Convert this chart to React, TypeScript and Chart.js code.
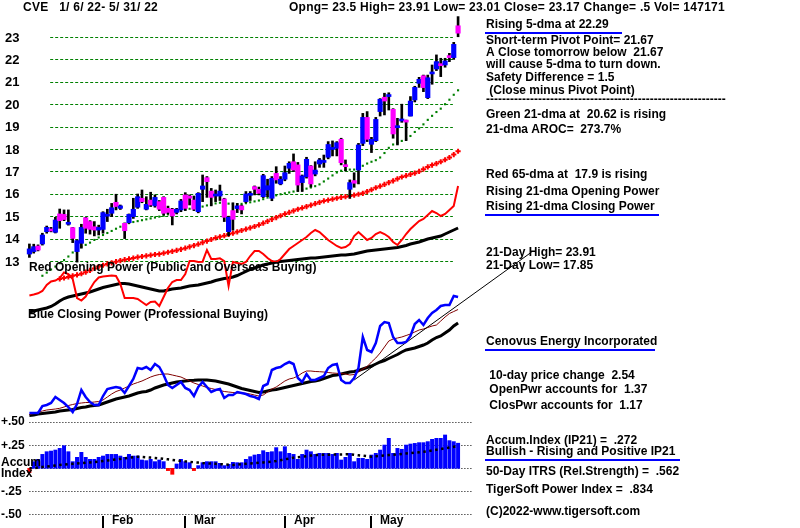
import React, { useEffect, useRef } from "react";
import { Chart, registerables } from "chart.js";

Chart.register(...registerables);

// ---------------- data ----------------
const HEADER_LEFT = "CVE   1/ 6/ 22- 5/ 31/ 22";
const HEADER_STATS = "Opng= 23.5 High= 23.91 Low= 23.01 Close= 23.17 Change= .5 Vol= 147171";

const OPEN = [13.31,13.42,13.67,13.76,14.31,14.43,14.28,15.10,15.08,14.64, 14.49,13.42,13.79,14.93,14.76,14.53,14.38,14.41,15.00,15.13, 15.62,15.35,14.68,14.71,14.98,15.40,15.80,15.31,15.72,15.46, 15.65,15.84,15.35,15.31,15.17,15.28,15.95,15.90,15.72,15.20, 16.20,16.72,16.12,15.90,15.90,15.77,14.31,15.25,15.34,15.46, 15.65,15.93,16.32,16.20,15.87,16.17,15.80,16.91,16.44,16.65, 17.14,17.43,17.29,16.50,16.76,17.24,16.88,17.33,17.40,17.63, 17.98,18.03,18.43,17.29,16.20,16.59,17.06,18.25,19.41,18.21, 18.37,19.67,20.31,20.34,19.77,18.95,19.25,19.25,19.47,20.19, 20.93,21.27,20.29,21.35,21.57,21.75,21.75,22.15,22.08,23.50];
const HIGH = [13.76,13.75,13.72,14.24,14.56,14.50,14.95,15.32,15.28,15.28, 14.50,13.94,14.64,14.95,14.80,14.76,14.60,15.20,15.31,15.57, 15.98,15.50,14.70,15.10,15.80,15.99,16.17,15.87,16.07,15.95, 15.70,15.87,15.45,15.35,15.35,15.75,16.05,15.95,15.90,16.05, 16.84,16.77,16.24,16.17,16.39,15.80,15.00,15.60,15.57,15.50, 16.10,16.10,16.35,16.30,16.87,16.65,16.77,17.21,16.77,17.24, 17.43,17.78,17.40,16.84,17.63,17.26,17.43,17.58,17.73,18.33, 18.36,18.33,18.48,17.51,16.62,16.94,18.25,19.59,19.67,18.52, 19.41,20.25,20.49,20.51,19.80,19.37,20.00,19.29,20.34,20.80, 21.20,21.30,21.30,21.75,22.20,22.05,22.05,22.27,22.76,23.91];
const LOW = [13.16,13.35,13.45,13.71,14.24,14.30,14.25,14.46,14.80,14.60, 13.82,12.95,13.57,14.24,14.20,14.12,14.16,14.24,14.76,14.98, 15.28,15.30,14.00,14.68,14.90,15.35,15.60,15.28,15.43,15.40, 15.25,15.05,15.10,14.61,15.10,15.20,15.25,15.50,15.25,15.15, 15.65,15.84,15.46,15.65,15.70,14.76,14.12,14.38,15.16,15.10, 15.60,15.70,15.95,15.95,15.83,15.87,15.69,16.47,16.40,16.58, 16.91,16.99,16.10,16.10,16.70,16.30,16.80,17.18,17.18,17.56, 17.69,17.69,17.29,17.02,15.80,16.29,16.44,18.15,18.33,17.84, 18.33,19.47,19.52,19.74,18.48,18.18,19.19,18.37,19.47,20.10, 20.75,20.56,20.25,20.89,21.50,21.23,21.65,21.90,22.00,23.01];
const CLOSE = [13.54,13.64,13.49,14.16,14.50,14.34,14.83,14.80,14.85,14.71, 14.01,13.91,14.50,14.46,14.41,14.38,14.50,15.16,15.02,15.38, 15.43,15.46,14.35,15.08,15.31,15.87,15.65,15.53,15.50,15.84, 15.31,15.13,15.17,15.01,15.31,15.68,15.35,15.80,15.31,16.02, 16.35,16.54,15.84,15.95,16.12,14.95,14.95,14.86,15.46,15.28, 15.99,15.95,16.20,16.02,16.81,16.36,16.69,16.62,16.65,16.94, 17.36,17.06,16.39,16.80,17.54,16.44,17.06,17.51,17.45,18.20, 18.05,18.28,17.39,17.21,16.50,16.47,18.18,19.41,18.43,18.43, 19.32,20.22,20.14,20.41,18.67,19.00,19.32,19.20,20.14,20.75, 21.11,20.74,21.18,21.42,21.90,21.72,21.93,22.08,22.67,23.17];

const MA21 = [null,null,null,12.34,12.48,12.62,12.75,12.9,13.04,13.2, 13.38,13.52,13.64,13.72,13.82,13.94,14.05,14.16,14.25,14.34, 14.44,14.53,14.62,14.69,14.74,14.78,14.82,14.86,14.9,14.94, 14.98,15.02,15.08,15.13,15.2,15.26,15.3,15.33,15.37,15.4, 15.43,15.48,15.53,15.57,15.6,15.59,15.56,15.54,15.54,15.55, 15.58,15.62,15.66,15.7,15.76,15.83,15.88,15.93,15.98,16.02, 16.06,16.1,16.14,16.18,16.23,16.28,16.34,16.42,16.55,16.68, 16.82,16.95,17.03,17.06,17.08,17.08,17.12,17.25,17.35,17.43, 17.5,17.62,17.82,18.05,18.2,18.28,18.36,18.45,18.58,18.76, 18.92,19.1,19.3,19.48,19.65,19.8,20.0,20.2,20.42,20.62];
const MA65 = [null,null,null,null,null,null,null,12.2,12.24,12.29, 12.34,12.38,12.43,12.5,12.58,12.67,12.75,12.81,12.87,12.92, 12.97,13.02,13.06,13.09,13.13,13.17,13.2,13.23,13.26,13.29, 13.31,13.35,13.39,13.43,13.47,13.52,13.57,13.63,13.69,13.75, 13.82,13.89,13.96,14.03,14.08,14.13,14.19,14.24,14.3,14.36, 14.42,14.48,14.54,14.61,14.69,14.77,14.86,14.94,15.02,15.1, 15.17,15.24,15.31,15.37,15.43,15.49,15.56,15.62,15.68,15.72, 15.76,15.8,15.84,15.87,15.9,15.94,15.98,16.02,16.1,16.18, 16.27,16.34,16.42,16.5,16.58,16.67,16.75,16.81,16.87,16.92, 17.0,17.1,17.2,17.28,17.35,17.43,17.52,17.62,17.75,17.9];

// Opening Power (arbitrary units) and its moving average
const OPEN_POWER = [24.5,25.5,26.7,29,35,38.5,39.5,42,47.5,46, 41,22,19.5,23.5,31,38,42.5,43.5,44,44.5, 44,36,22,22,22,21,18,15,18,18.5, 14,23,32,38,40,40,46,59,59,58, 58.3,70,61,61,61.7,59,34,58,57,56, 58,64,69,69,66,62,59,58,61,66, 71,74,77,80,83,87,90,88,84,80, 77,74,72,73,76,84,88,84,80,82, 86,88,86,83,78,75,80,86,91,95, 99,101,105,109,107,104,106,110,114,134];
const OPEN_POWER_MA = [8,9,10,11,12,13.5,16,19,21.5,23, 24,25,26,27,28,29.5,31,32.5,33.5,34.5, 35.5,36.5,36.5,36,35,34,33,32,31,30, 29,29,30,31,31.5,32,33,34,34.5,35, 36,37,38,39.5,40.5,41.5,42,43,44.5,46.5, 48.5,50.5,52,53.5,55,56,57,58,58.5,59, 59.5,60,60.5,61,61.5,62,62,62.5,63,63.5, 64,64.5,65,65,65.5,66,67,68,69,69.5, 70,70.5,71,71.5,72,72.5,73.5,74.5,76,77, 78,79.5,81,82,83,84,86,88,90,92];

// Closing Power (arbitrary units) and its moving averages
const CLOSE_POWER = [0,0,0,7,8,10,16,13,10,6, 1,9,23,16,11,8,8,17,24,25, 26,25,20,27,34,45,44,46,43,49, 46,38,28,25,28,31,25,23,17,26, 31,26,21,23,24,15,18,18,21,20, 19,17,16,14,27,29,43,45,46,49, 51,49,35,31,39,33,33,35,37,45, 48,49,33,30,30,35,45,76,63,61, 70,87,91,90,76,70,70,71,77,89, 93,88,95,100,103,107,108,108,117,116];
const CLOSE_POWER_MA21 = [-1.5,-0.5,1,2,3,3.5,4,4.7,6,7.5, 8.5,9.5,10,10.5,10.5,11,11.5,13,16,19, 21.5,23,25,27,29,30.5,32,34,36,37.5, 38.5,39,39,38,37,36,34,32,30,28.5, 27,25.5,24.5,23.5,22.5,21.5,21,20.5,20,20, 19.7,19,18,17,18,21,24,26,29,32, 34,35,37,40,42,42,41.5,41.3,41,40.5, 40,39.7,39.5,39,38,38.5,41,44,46.5,51, 55,60,66,72,74,75,76,77.5,79,81, 83,84,85.5,87,88,92,96,99.5,101.5,103.5];
const CLOSE_POWER_MA65 = [-2.5,-2,-1,-0.5,0,0.5,1,2,2.5,3, 3.5,4.5,5.5,6,7,7.5,8,9.5,11,12.5, 14,15,16,17,18.5,20,21,21.5,23,25, 26.5,28,29,30,31,31.5,32,32.5,32.7,33, 33,33,32.5,32,31,30,29,27.5,26,24.5, 23.5,22.5,21.5,20.5,21,22,23,23.5,24.5,25.5, 26.5,27.5,28.5,29.5,30.5,31.5,32,33,34.5,36, 37.5,38,39,40,41,41.5,42.5,44,45.5,47, 49,51,52.5,54.5,56.5,58.5,61,63,64,65, 66.5,68,70,73,75.5,77,80,83,87,90];
const CLOSE_POWER_TREND_BARS = [75, 116];
const CLOSE_POWER_TREND_VALUES = [33, 161];

// Accumulation Index (IP21) and its moving average
const ACCUM = [-0.047,0.072,0.097,0.151,0.18,0.187,0.198,0.216,0.245,0.18, 0.072,0.119,0.173,0.119,0.097,0.097,0.119,0.133,0.151,0.151, 0.151,0.133,0.119,0.151,0.133,0.133,0.09,0.083,0.097,0.072, 0.09,0.072,-0.025,-0.065,0.047,0.097,0.072,0.061,-0.025,0.029, 0.061,0.072,0.072,0.072,0.054,0.029,0.043,0.065,0.061,0.061, 0.097,0.126,0.144,0.151,0.191,0.173,0.18,0.224,0.18,0.234, 0.162,0.151,0.097,0.151,0.198,0.18,0.151,0.162,0.162,0.162, 0.151,0.162,0.09,0.119,0.162,0.072,0.108,0.108,0.097,0.144, 0.162,0.198,0.252,0.325,0.162,0.216,0.206,0.252,0.263,0.27, 0.278,0.278,0.289,0.314,0.325,0.325,0.361,0.3,0.289,0.272];
const ACCUM_MA = [0,0,0.01,0.015,0.02,0.025,0.03,0.036,0.04,0.045, 0.048,0.052,0.056,0.06,0.064,0.068,0.072,0.078,0.084,0.09, 0.096,0.102,0.108,0.114,0.12,0.125,0.124,0.12,0.116,0.112, 0.108,0.102,0.097,0.091,0.085,0.08,0.075,0.07,0.066,0.062, 0.057,0.054,0.051,0.048,0.045,0.042,0.039,0.036,0.04,0.045, 0.049,0.053,0.056,0.06,0.064,0.068,0.072,0.079,0.088,0.097, 0.106,0.115,0.12,0.126,0.132,0.138,0.143,0.145,0.146,0.147, 0.148,0.149,0.15,0.151,0.152,0.146,0.141,0.136,0.131,0.126, 0.13,0.135,0.139,0.143,0.147,0.151,0.156,0.16,0.165,0.17, 0.174,0.179,0.185,0.193,0.201,0.209,0.217,0.225,0.233,0.242];

const PRICE_TICKS = [13, 14, 15, 16, 17, 18, 19, 20, 21, 22, 23];
const ACCUM_TICKS = [0.5, 0.25, 0, -0.25, -0.5];
const ACCUM_TICK_LABELS = ["+.50", "+.25", "", "-.25", "-.50"];
const MONTH_LABELS = ["Feb", "Mar", "Apr", "May"];
const MONTH_START_BARS = [17, 36, 59, 79];

const NOTES_TOP = [
  "Rising 5-dma at 22.29",
  "Short-term Pivot Point= 21.67",
  "A Close tomorrow below  21.67",
  "will cause 5-dma to turn down.",
  "Safety Difference = 1.5",
  " (Close minus Pivot Point)",
  "------------------------------------------------------------",
  "Green 21-dma at  20.62 is rising",
  "21-dma AROC=  273.7%",
  "Red 65-dma at  17.9 is rising",
  "Rising 21-dma Opening Power",
  "Rising 21-dma Closing Power",
  "21-Day High= 23.91",
  "21-Day Low= 17.85",
  "Cenovus Energy Incorporated",
  " 10-day price change  2.54",
  " OpenPwr accounts for  1.37",
  " ClosPwr accounts for  1.17",
  "Accum.Index (IP21) =  .272",
  "Bullish - Rising and Positive IP21",
  "50-Day ITRS (Rel.Strength) =  .562",
  "TigerSoft Power Index =  .834",
  "(C)2022-www.tigersoft.com",
];
const OPEN_POWER_TITLE = "Red Opening Power (Public and Overseas Buying)";
const CLOSE_POWER_TITLE = "Blue Closing Power (Professional Buying)";
const ACCUM_TITLE = ["Accum", "Index"];

// ---------------- layout / drawing ----------------
const FONT = '"Liberation Sans", Arial, sans-serif';
const NOTE_Y = [25, 40.5, 52.5, 64.5, 77.5, 90.5, 100, 115, 129.5, 175, 192, 207, 253, 265.5, 342, 375.5, 390, 405.5, 441, 452, 472, 490, 512];
const UNDERLINED: Record<number, number> = { 0: 622, 11: 659, 14: 655, 19: 680 };

const tigerPlugin = {
  id: "tigerLayout",
  beforeDatasetsDraw(chart: any) {
    const { ctx } = chart;
    const x = chart.scales.x;
    const yp = chart.scales.yPrice;
    const ya = chart.scales.yAcc;
    ctx.save();
    ctx.lineWidth = 1;
    ctx.strokeStyle = "#008000";
    ctx.setLineDash([3, 2]);
    for (const t of PRICE_TICKS) {
      const py = Math.round(yp.getPixelForValue(t)) + 0.5;
      ctx.beginPath();
      ctx.moveTo(x.getPixelForValue(4.8), py);
      ctx.lineTo(x.getPixelForValue(97.8), py);
      ctx.stroke();
    }
    ctx.strokeStyle = "#000";
    ctx.setLineDash([1, 2]);
    for (const t of ACCUM_TICKS) {
      const py = Math.round(ya.getPixelForValue(t)) + 0.5;
      ctx.beginPath();
      ctx.moveTo(x.getPixelForValue(0), py);
      ctx.lineTo(x.getPixelForValue(102.5), py);
      ctx.stroke();
    }
    ctx.restore();
  },
  afterDraw(chart: any) {
    const { ctx } = chart;
    const x = chart.scales.x;
    const yp = chart.scales.yPrice;
    const ya = chart.scales.yAcc;
    ctx.save();
    ctx.textBaseline = "middle";
    ctx.textAlign = "left";
    ctx.fillStyle = "#000";
    ctx.font = `bold 12px ${FONT}`;
    (ctx as any).letterSpacing = "0.25px";
    ctx.fillText(HEADER_LEFT, 23, 8);
    ctx.fillText(HEADER_STATS, 289, 8);
    (ctx as any).letterSpacing = "0px";
    NOTES_TOP.forEach((s, i) => {
      ctx.fillText(s, 486, NOTE_Y[i]);
    });
    ctx.strokeStyle = "#0000ff";
    ctx.lineWidth = 2;
    Object.keys(UNDERLINED).forEach((k) => {
      const i = Number(k);
      const yy = NOTE_Y[i] + 8;
      ctx.beginPath();
      ctx.moveTo(485, yy);
      ctx.lineTo(UNDERLINED[i], yy);
      ctx.stroke();
    });
    ctx.fillText(OPEN_POWER_TITLE, 29, 268);
    ctx.fillText(CLOSE_POWER_TITLE, 28, 315);
    ctx.fillText(ACCUM_TITLE[0], 1, 463);
    ctx.fillText(ACCUM_TITLE[1], 1, 474);
    ctx.font = `bold 13px ${FONT}`;
    for (const t of PRICE_TICKS) {
      ctx.fillText(String(t), 5, yp.getPixelForValue(t) + 1);
    }
    ctx.font = `bold 12px ${FONT}`;
    ACCUM_TICKS.forEach((t, i) => {
      if (ACCUM_TICK_LABELS[i]) ctx.fillText(ACCUM_TICK_LABELS[i], 1, ya.getPixelForValue(t));
    });
    ctx.strokeStyle = "#000";
    ctx.lineWidth = 2;
    MONTH_START_BARS.forEach((b, i) => {
      const px = Math.round(x.getPixelForValue(b));
      ctx.beginPath();
      ctx.moveTo(px, 516);
      ctx.lineTo(px, 528);
      ctx.stroke();
      ctx.fillText(MONTH_LABELS[i], px + 9, 521);
    });
    ctx.restore();
  },
};

const idx = OPEN.map((_, i) => i);
const pts = (arr: (number | null)[]) =>
  arr.map((v, i) => (v === null ? null : { x: i, y: v })).filter((p) => p !== null);

export default function App() {
  const ref = useRef<HTMLCanvasElement>(null);
  useEffect(() => {
    const canvas = ref.current;
    if (!canvas) return;
    const chart = new Chart(canvas, {
      type: "bar",
      data: {
        datasets: [
          {
            type: "bar",
            label: "wick",
            yAxisID: "yPrice",
            data: idx.map((i) => ({ x: i, y: [LOW[i], HIGH[i]] })) as any,
            backgroundColor: "#000",
            barThickness: 2,
            grouped: false,
            order: 5,
          },
          {
            type: "bar",
            label: "body",
            yAxisID: "yPrice",
            data: idx.map((i) => ({ x: i, y: [OPEN[i], CLOSE[i]] })) as any,
            backgroundColor: idx.map((i) => (CLOSE[i] >= OPEN[i] ? "#0000ff" : "#ff00ff")),
            barThickness: 4.5,
            minBarLength: 2,
            grouped: false,
            order: 4,
          },
          {
            type: "line",
            label: "ma65",
            yAxisID: "yPrice",
            data: pts(MA65) as any,
            showLine: false,
            pointStyle: "cross",
            pointRadius: 2.6,
            pointBorderWidth: 2,
            pointBorderColor: "#ff0000",
            borderColor: "#ff0000",
            order: 20,
          },
          {
            type: "line",
            label: "ma21",
            yAxisID: "yPrice",
            data: pts(MA21) as any,
            showLine: false,
            pointStyle: "rect",
            pointRadius: 1.5,
            pointBorderWidth: 0,
            pointBackgroundColor: "#008000",
            borderColor: "#008000",
            order: 19,
          },
          {
            type: "line",
            label: "opMA",
            yAxisID: "yOP",
            data: pts(OPEN_POWER_MA) as any,
            borderColor: "#000",
            borderWidth: 3,
            pointRadius: 0,
            order: 16,
          },
          {
            type: "line",
            label: "op",
            yAxisID: "yOP",
            data: pts(OPEN_POWER) as any,
            borderColor: "#ff0000",
            borderWidth: 2,
            pointRadius: 0,
            order: 15,
          },
          {
            type: "line",
            label: "cpMA65",
            yAxisID: "yCP",
            data: pts(CLOSE_POWER_MA65) as any,
            borderColor: "#000",
            borderWidth: 3,
            pointRadius: 0,
            order: 14,
          },
          {
            type: "line",
            label: "cpMA21",
            yAxisID: "yCP",
            data: pts(CLOSE_POWER_MA21) as any,
            borderColor: "#800000",
            borderWidth: 1,
            pointRadius: 0,
            order: 13,
          },
          {
            type: "line",
            label: "cpTrend",
            yAxisID: "yCP",
            data: CLOSE_POWER_TREND_BARS.map((b, i) => ({ x: b, y: CLOSE_POWER_TREND_VALUES[i] })) as any,
            borderColor: "#000",
            borderWidth: 1,
            pointRadius: 0,
            order: 12,
          },
          {
            type: "line",
            label: "cp",
            yAxisID: "yCP",
            data: pts(CLOSE_POWER) as any,
            borderColor: "#0000ff",
            borderWidth: 2.5,
            pointRadius: 0,
            order: 11,
          },
          {
            type: "bar",
            label: "accum",
            yAxisID: "yAcc",
            data: idx.map((i) => ({ x: i, y: ACCUM[i] })) as any,
            backgroundColor: ACCUM.map((v) => (v >= 0 ? "#0000ff" : "#ff0000")),
            barThickness: 3.3,
            grouped: false,
            order: 9,
          },
          {
            type: "line",
            label: "accumMA",
            yAxisID: "yAcc",
            data: pts(ACCUM_MA) as any,
            borderColor: "#000",
            borderWidth: 2.5,
            borderDash: [2.5, 3.5],
            pointRadius: 0,
            order: 8,
          },
        ],
      },
      options: {
        responsive: false,
        animation: false,
        events: [],
        layout: { padding: 0, autoPadding: false },
        plugins: { legend: { display: false }, tooltip: { enabled: false }, title: { display: false } },
        scales: {
          x: { type: "linear", display: false, offset: false, min: -6.79, max: 177.967 },
          yPrice: { type: "linear", display: false, min: 1.08, max: 24.651 },
          yOP: { type: "linear", display: false, min: -208, max: 320 },
          yCP: { type: "linear", display: false, min: -115, max: 413 },
          yAcc: { type: "linear", display: false, min: -0.6468, max: 5.0737 },
        },
      } as any,
      plugins: [tigerPlugin],
    });
    return () => chart.destroy();
  }, []);
  return (
    <div style={{ position: "fixed", left: 0, top: 0, width: 800, height: 528, background: "#fff" }}>
      <canvas ref={ref} width={800} height={528} style={{ display: "block", width: 800, height: 528 }} />
    </div>
  );
}
